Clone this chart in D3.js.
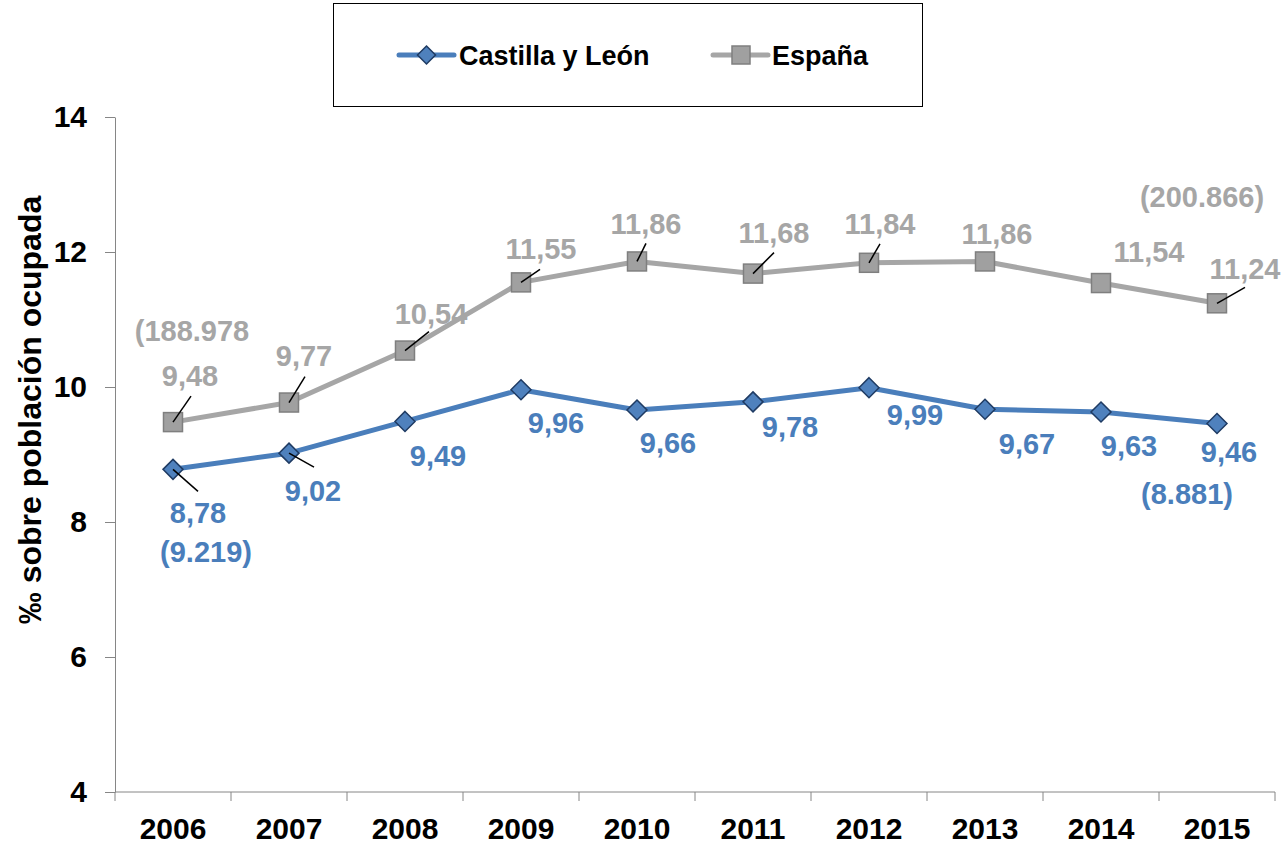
<!DOCTYPE html>
<html>
<head>
  <meta charset="utf-8">
  <title>‰ sobre población ocupada</title>
  <script src="https://d3js.org/d3.v7.min.js"></script>
</head>
<style>
  body { margin: 0; background: #fff; }
  svg { font-family: "Liberation Sans", Arial, sans-serif; font-weight: bold; }
  .axis path, .axis line { stroke: #868686; }
</style>
<body>
</body>
<script>

  // data
  var years = ['2006', '2007', '2008', '2009', '2010', '2011', '2012', '2013', '2014', '2015'];
  var castilla = [8.78, 9.02, 9.49, 9.96, 9.66, 9.78, 9.99, 9.67, 9.63, 9.46];
  var espana = [9.48, 9.77, 10.54, 11.55, 11.86, 11.68, 11.84, 11.86, 11.54, 11.24];
  var yTicks = [4, 6, 8, 10, 12, 14];
  var castillaTotals = [['2006', '(9.219)'], ['2015', '(8.881)']];
  var espanaTotals = [['2006', '(188.978'], ['2015', '(200.866)']];

  // label placement (offsets from the point, px)
  var espanaLabelPos = [[17,-47],[15,-47],[26,-37],[20,-34],[9,-38],[21,-41],[11,-39],[12,-28],[48,-31],[28,-35]];
  var castillaLabelPos = [[25,43],[24,37],[33,34],[35,33],[31,33],[37,25],[46,27],[42,34],[28,34],[12,28]];
  var espanaLeaders = {'2006':[18,-26],'2007':[16,-26],'2008':[24,-19],'2009':[19,-13],'2010':[9,-18],'2011':[21,-21],'2012':[11,-19],'2015':[28,-16]};
  var castillaLeaders = {'2006':[25,22],'2007':[25,14]};
  var espanaTotalPos = [[19,-92],[-15,-107]];
  var castillaTotalPos = [[33,82],[-30,70]];

  var blue = '#4A7EBB', gray = '#A6A6A6';

  var svg = d3.select('body').append('svg')
    .attr('width', 1286)
    .attr('height', 845);

  var xScale = d3.scaleBand()
    .domain(years)
    .range([115, 1275]);

  var yScale = d3.scaleLinear()
    .domain([4, 14])
    .range([792, 117]);

  // y axis
  svg.append('g')
    .attr('class', 'axis')
    .attr('transform', 'translate(115,0)')
    .call(d3.axisLeft(yScale).tickValues(yTicks).tickSize(10).tickPadding(18).tickSizeOuter(0))
    .call(function(g) {
      g.selectAll('text').style('font-size', '30px').style('font-weight', 'bold').attr('fill', '#000')
        .style('font-family', '"Liberation Sans", Arial, sans-serif');
    });

  // x axis, labels centred, ticks on the band edges
  svg.append('g')
    .attr('class', 'axis')
    .attr('transform', 'translate(0,792)')
    .call(d3.axisBottom(xScale).tickSize(0).tickPadding(26))
    .call(function(g) {
      g.selectAll('.tick line').remove();
      g.select('.domain').attr('d', 'M115,0H1275');
      g.selectAll('text').style('font-size', '30px').style('font-weight', 'bold').attr('fill', '#000')
        .style('font-family', '"Liberation Sans", Arial, sans-serif');
    });

  var edges = years.map(function(d) { return xScale(d); }).concat([xScale(years[years.length - 1]) + xScale.bandwidth()]);
  svg.append('g').selectAll('line')
    .data(edges)
    .enter().append('line')
      .attr('x1', function(d) { return d; })
      .attr('x2', function(d) { return d; })
      .attr('y1', 792)
      .attr('y2', 801)
      .attr('stroke', '#868686');

  // y title
  svg.append('text')
    .attr('transform', 'translate(30,410) rotate(-90)')
    .attr('text-anchor', 'middle')
    .attr('dy', '0.35em')
    .style('font-size', '32px')
    .text('‰ sobre población ocupada');

  function cx(i) { return xScale(years[i]) + xScale.bandwidth() / 2; }

  var line = d3.line()
    .x(function(d, i) { return cx(i); })
    .y(function(d) { return yScale(d); });

  function drawSeries(values, color, marker, labelPos, leaders, totals, totalPos) {
    var g = svg.append('g');

    g.append('path')
      .datum(values)
      .attr('d', line)
      .attr('fill', 'none')
      .attr('stroke', color)
      .attr('stroke-width', 5)
      .attr('stroke-linejoin', 'round');

    if (marker == 'square') {
      g.selectAll('.m').data(values).enter().append('rect')
        .attr('x', function(d, i) { return cx(i) - 9.5; })
        .attr('y', function(d) { return yScale(d) - 9.5; })
        .attr('width', 19).attr('height', 19)
        .attr('fill', '#A0A0A0').attr('stroke', '#7F7F7F').attr('stroke-width', 1.5);
    } else {
      g.selectAll('.m').data(values).enter().append('path')
        .attr('d', function(d, i) {
          var x = cx(i), y = yScale(d), r = 10;
          return 'M' + x + ',' + (y - r) + 'L' + (x + r) + ',' + y + 'L' + x + ',' + (y + r) + 'L' + (x - r) + ',' + y + 'Z';
        })
        .attr('fill', '#4F81BD').attr('stroke', '#1F3B63').attr('stroke-width', 1.5);
    }

    // leader lines
    values.forEach(function(v, i) {
      var l = leaders[years[i]];
      if (!l) return;
      g.append('line')
        .attr('x1', cx(i)).attr('y1', yScale(v))
        .attr('x2', cx(i) + l[0]).attr('y2', yScale(v) + l[1])
        .attr('stroke', '#000').attr('stroke-width', 1.5);
    });

    g.selectAll('.lbl').data(values).enter().append('text')
      .attr('x', function(d, i) { return cx(i) + labelPos[i][0]; })
      .attr('y', function(d, i) { return yScale(d) + labelPos[i][1]; })
      .attr('dy', '0.36em')
      .attr('text-anchor', 'middle')
      .attr('fill', color)
      .style('font-size', '29px')
      .text(function(d) { return d3.format('.2f')(d).replace('.', ','); });

    totals.forEach(function(t, k) {
      var i = years.indexOf(t[0]);
      g.append('text')
        .attr('x', cx(i) + totalPos[k][0])
        .attr('y', yScale(values[i]) + totalPos[k][1])
        .attr('dy', '0.36em')
        .attr('text-anchor', 'middle')
        .attr('fill', color)
        .style('font-size', '29px')
        .text(t[1]);
    });
  }

  drawSeries(espana, gray, 'square', espanaLabelPos, espanaLeaders, espanaTotals, espanaTotalPos);
  drawSeries(castilla, blue, 'diamond', castillaLabelPos, castillaLeaders, castillaTotals, castillaTotalPos);

  // legend
  var legend = svg.append('g');
  legend.append('rect')
    .attr('x', 333.5).attr('y', 3.5).attr('width', 589).attr('height', 103)
    .attr('fill', '#fff').attr('stroke', '#000').attr('stroke-width', 1);

  legend.append('line').attr('x1', 399).attr('x2', 454).attr('y1', 55).attr('y2', 55)
    .attr('stroke', blue).attr('stroke-width', 5).attr('stroke-linecap', 'round');
  legend.append('path').attr('d', 'M426.5,46L435.5,55L426.5,64L417.5,55Z')
    .attr('fill', '#4F81BD').attr('stroke', '#1F3B63').attr('stroke-width', 1.5);
  legend.append('text').attr('x', 459).attr('y', 55).attr('dy', '0.36em')
    .style('font-size', '27px').text('Castilla y León');

  legend.append('line').attr('x1', 713).attr('x2', 768).attr('y1', 55).attr('y2', 55)
    .attr('stroke', gray).attr('stroke-width', 5).attr('stroke-linecap', 'round');
  legend.append('rect').attr('x', 732).attr('y', 46).attr('width', 18).attr('height', 18)
    .attr('fill', '#A0A0A0').attr('stroke', '#7F7F7F').attr('stroke-width', 1.5);
  legend.append('text').attr('x', 772).attr('y', 55).attr('dy', '0.36em')
    .style('font-size', '27px').text('España');

</script>
</html>
